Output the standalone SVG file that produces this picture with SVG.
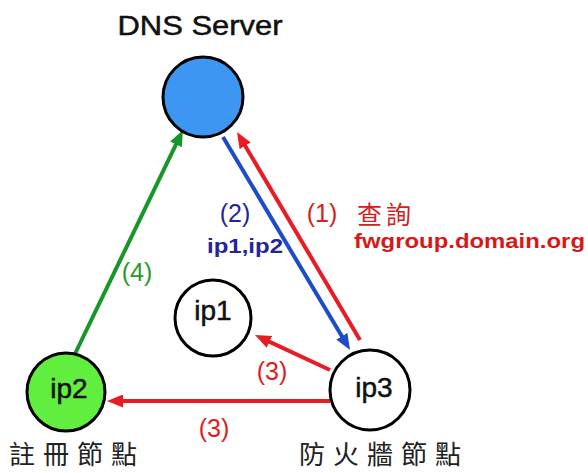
<svg xmlns="http://www.w3.org/2000/svg" width="588" height="473" viewBox="0 0 588 473">
<style>
.node{stroke:#000;stroke-width:3}
.lbl{font-family:"Liberation Sans",Arial,sans-serif;font-size:28px;fill:#111;stroke:#111;stroke-width:0.5px;text-anchor:middle}
.num{font-family:"Liberation Sans",Arial,sans-serif;font-size:25px}
.cjk{font-family:"Noto Sans CJK TC",sans-serif;font-size:26px;fill:#222;letter-spacing:8px}
.conn{fill:none;stroke-width:4}
</style>
<defs>
<marker id="ar" viewBox="0 0 16 13" refX="8" refY="6.5" markerWidth="16" markerHeight="13" orient="auto" markerUnits="userSpaceOnUse"><path d="M0,0 L16,6.5 L0,13 z" fill="#e81c24"/></marker>
<marker id="ab" viewBox="0 0 16 13" refX="8" refY="6.5" markerWidth="16" markerHeight="13" orient="auto" markerUnits="userSpaceOnUse"><path d="M0,0 L16,6.5 L0,13 z" fill="#1c4cc8"/></marker>
<marker id="ag" viewBox="0 0 16 13" refX="8" refY="6.5" markerWidth="16" markerHeight="13" orient="auto" markerUnits="userSpaceOnUse"><path d="M0,0 L16,6.5 L0,13 z" fill="#18962a"/></marker>
</defs>
<rect width="588" height="473" fill="#fff"/>
<g id="connectors">
<line class="conn" x1="73" y1="358" x2="179.5" y2="137.2" stroke="#18962a" marker-end="url(#ag)"/>
<line class="conn" x1="223" y1="137" x2="345.9" y2="343.1" stroke="#1c4cc8" marker-end="url(#ab)"/>
<line class="conn" x1="360" y1="340" x2="241.1" y2="138.9" stroke="#e81c24" marker-end="url(#ar)"/>
<line class="conn" x1="330" y1="370" x2="262.2" y2="338.4" stroke="#e81c24" marker-end="url(#ar)"/>
<line class="conn" x1="330" y1="401" x2="115" y2="401" stroke="#e81c24" marker-end="url(#ar)"/>
<text class="num" x="235" y="222" fill="#25259a" text-anchor="middle">(2)</text>
<text x="207" y="253" fill="#25259a" font-family="'Liberation Sans',Arial,sans-serif" font-size="20" font-weight="bold" textLength="76" lengthAdjust="spacingAndGlyphs">ip1,ip2</text>
<text class="num" x="322" y="222" fill="#d42020" text-anchor="middle">(1)</text>
<text x="357" y="224" fill="#d42020" font-family="'Noto Sans CJK TC',sans-serif" font-size="25" letter-spacing="4">查詢</text>
<text x="354" y="248" fill="#d81818" font-family="'Liberation Sans',Arial,sans-serif" font-size="21" font-weight="bold" textLength="231" lengthAdjust="spacingAndGlyphs">fwgroup.domain.org</text>
<text class="num" x="137" y="281" fill="#2a9a2a" text-anchor="middle">(4)</text>
<text class="num" x="272" y="380" fill="#e01c1c" text-anchor="middle">(3)</text>
<text class="num" x="214" y="437" fill="#e01c1c" text-anchor="middle">(3)</text>
</g>
<g id="dns">
<circle class="node" cx="203" cy="97" r="40" fill="#3d97f2"/>
<text class="lbl" x="200" y="35" textLength="165" lengthAdjust="spacingAndGlyphs">DNS Server</text>
</g>
<g id="ip1">
<circle class="node" cx="213" cy="318" r="38" fill="#fff"/>
<text class="lbl" x="213" y="320">ip1</text>
</g>
<g id="ip3">
<circle class="node" cx="370" cy="390" r="40" fill="#fff"/>
<text class="lbl" x="374" y="397">ip3</text>
</g>
<g id="ip2">
<circle class="node" cx="66" cy="392" r="39" fill="#62ee3e"/>
<text class="lbl" x="69" y="398">ip2</text>
<text class="cjk" x="9" y="464">註冊節點</text>
</g>
<g id="fw-label">
<text class="cjk" x="299" y="464">防火牆節點</text>
</g>
</svg>
